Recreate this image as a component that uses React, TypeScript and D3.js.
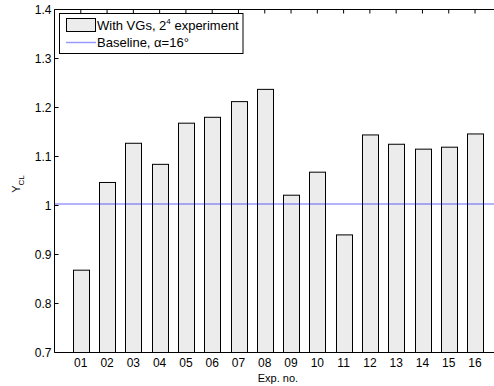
import React from 'react';
import * as d3 from 'd3';

const categories = ['01','02','03','04','05','06','07','08','09','10','11','12','13','14','15','16'];
const values = [0.868, 1.047, 1.127, 1.084, 1.168, 1.180, 1.212, 1.237, 1.021, 1.068, 0.940, 1.144, 1.125, 1.115, 1.119, 1.146];
const baseline = 1.003;
const yTicks = [0.7, 0.8, 0.9, 1, 1.1, 1.2, 1.3, 1.4];

const W = 494, H = 386;
const FONT = '"Liberation Sans", Arial, sans-serif';

export default function App() {
  const x = d3.scaleLinear().domain([0, 17]).range([54.5, 501.3]);
  const y = d3.scaleLinear().domain([0.7, 1.4]).range([352.5, 9.5]);
  const bw = x(0.6) - x(0);
  const xt = categories.map((_, i) => i + 1);
  const fmt = (v: number) => (v === 1 ? '1' : d3.format('.1f')(v));
  return (
    <svg width={W} height={H} style={{ position: 'absolute', left: 0, top: 0, background: '#fff' }} fontFamily={FONT}>
      <rect x={0} y={0} width={W} height={H} fill="#fff" />
      {xt.map((t) => (
        <line key={'bt' + t} x1={x(t)} x2={x(t)} y1={y(0.7)} y2={y(0.7) - 4} stroke="#000" strokeWidth={1} />
      ))}
      {values.map((v, i) => (
        <rect key={'b' + i} x={Math.round(x(i + 1) - bw / 2) + 0.5} y={y(v)} width={Math.round(bw)} height={y(0.7) - y(v)} fill="#ececec" stroke="#000" strokeWidth={1} />
      ))}
      <line x1={x(0)} x2={x(17)} y1={y(baseline)} y2={y(baseline)} stroke="#0000ff" strokeOpacity={0.4} strokeWidth={1.5} />
      <line x1={x(0)} x2={x(17)} y1={y(0.7)} y2={y(0.7)} stroke="#000" strokeWidth={1} />
      <line x1={x(0)} x2={x(17)} y1={y(1.4)} y2={y(1.4)} stroke="#000" strokeWidth={1} />
      <line x1={x(0)} x2={x(0)} y1={y(0.7)} y2={y(1.4)} stroke="#000" strokeWidth={1} />
      {xt.map((t) => (
        <line key={'tt' + t} x1={x(t)} x2={x(t)} y1={y(1.4)} y2={y(1.4) + 4} stroke="#000" strokeWidth={1} />
      ))}
      {yTicks.map((t) => (
        <g key={'yt' + t}>
          <line x1={x(0)} x2={x(0) + 4} y1={y(t)} y2={y(t)} stroke="#000" strokeWidth={1} />
          <text x={x(0) - 3} y={y(t)} dy="0.35em" textAnchor="end" fontSize={12} fill="#000">{fmt(t)}</text>
        </g>
      ))}
      {categories.map((c, i) => (
        <text key={'xl' + i} x={x(i + 1)} y={366.5} textAnchor="middle" fontSize={12} fill="#000">{c}</text>
      ))}
      <text x={x(8.5)} y={381.5} textAnchor="middle" fontSize={11} fill="#000">Exp. no.</text>
      <g transform="translate(20,184) rotate(-90)">
        <text textAnchor="middle" fontSize={11} fill="#000">Y<tspan fontSize={8} dy={4}>CL</tspan></text>
      </g>
      <rect x={59.5} y={13.5} width={183.5} height={40} fill="#fff" stroke="#000" strokeWidth={1} />
      <rect x={66.5} y={18.5} width={29} height={13} fill="#ececec" stroke="#000" strokeWidth={1} />
      <text x={97} y={30} fontSize={13} fill="#000">With VGs, 2<tspan fontSize={8} dy={-6}>4</tspan><tspan dy={6}> experiment</tspan></text>
      <line x1={66} x2={96} y1={42.5} y2={42.5} stroke="#0000ff" strokeOpacity={0.4} strokeWidth={1.5} />
      <text x={97} y={47} fontSize={13} fill="#000">Baseline, α=16°</text>
    </svg>
  );
}
